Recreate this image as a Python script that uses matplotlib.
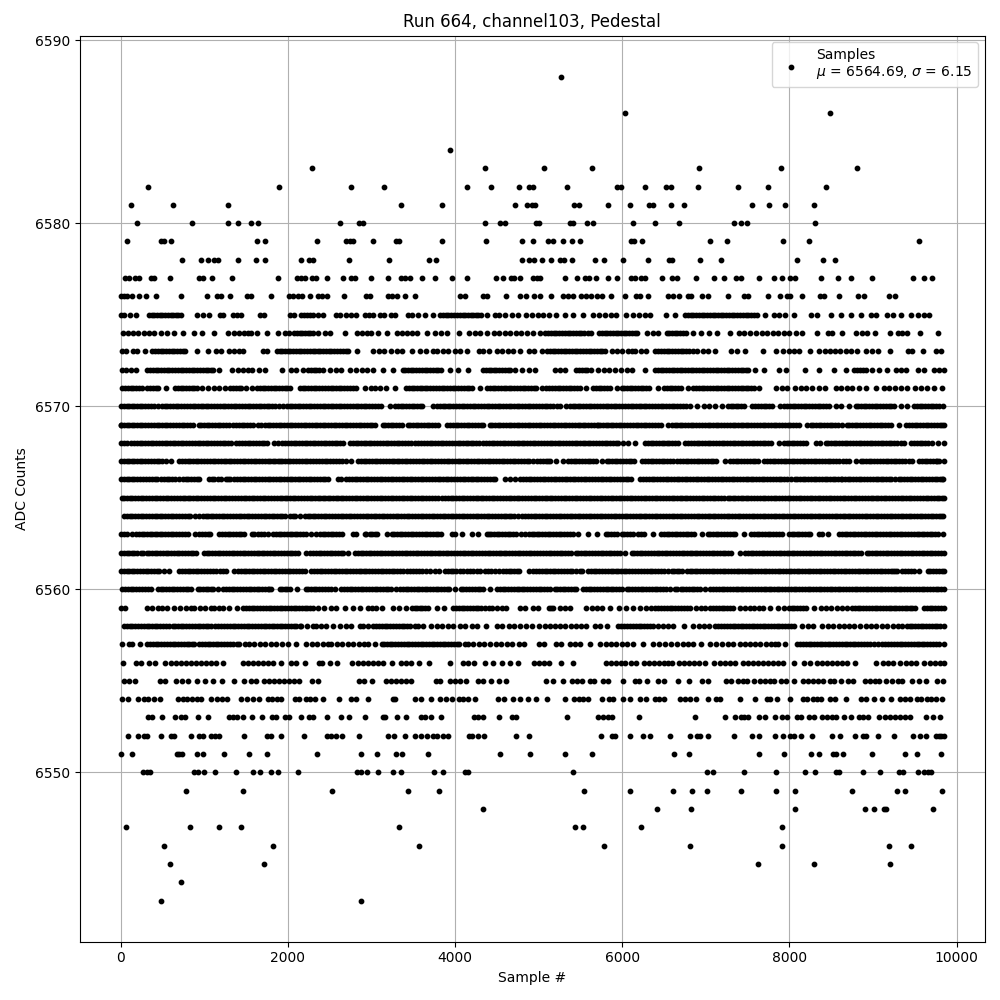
"""Pedestal scatter plot."""

import matplotlib
matplotlib.use("Agg")
import matplotlib.pyplot as plt

# sample numbers, one list per ADC level
S6543 = [488, 2876]
S6544 = [716]
S6545 = [584, 1712, 7620, 8292, 9204]
S6546 = [524, 1820, 3572, 5784, 6816, 7908, 9192, 9456]
S6547 = [68, 824, 1172, 1436, 3332, 5436, 5532, 6228, 7908]
S6548 = [4340, 6420, 6828, 8064, 8904, 9012, 9132, 9156, 9720]
S6549 = [776, 1460, 2528, 3440, 3812, 5544, 6096, 6612, 6840, 7008, 7416, 7836, 8064, 8748, 9288, 9384, 9828]
S6550 = [272, 320, 356, 872, 920, 1000, 1124, 1376, 1580, 1664, 1796, 1880, 2120, 2828, 2876, 2948, 3080, 3260, 3356,
         3752, 3860, 4120, 4150, 5412, 7008, 7080, 7452, 7836, 8184, 8304, 8556, 8592, 8880, 9084, 9312, 9360, 9540,
         9612, 9660, 9696]
S6551 = [0, 132, 668, 700, 728, 908, 980, 1232, 1532, 1748, 2348, 2876, 3068, 3296, 3368, 3680, 4532, 4892, 5316, 5640,
         6624, 6804, 7632, 7932, 8256, 8352, 8524, 8560, 8640, 8988, 9384, 9528, 9816]
S6552 = [92, 212, 284, 316, 488, 596, 636, 844, 932, 980, 1076, 1124, 1180, 1472, 1748, 1796, 1916, 2192, 2468, 2516,
         2576, 2648, 2852, 3200, 3272, 3404, 3524, 3596, 3668, 3740, 3788, 3860, 3920, 4172, 4208, 4280, 4352, 4724,
         4880, 5748, 5880, 5916, 6096, 6252, 6336, 6576, 6816, 6900, 6936, 7020, 7332, 7548, 7632, 7824, 7920, 8012,
         8052, 8136, 8268, 8508, 8604, 8784, 8880, 8916, 9060, 9252, 9480, 9564, 9636, 9748, 9790, 9812, 9847]
S6553 = [332, 372, 500, 644, 720, 768, 920, 1040, 1292, 1340, 1388, 1460, 1568, 1688, 1808, 1856, 1964, 2012, 2156,
         2252, 2300, 2468, 2636, 2732, 2928, 3132, 3164, 3308, 3416, 3596, 3644, 3716, 3836, 4232, 4280, 4340, 4520,
         4676, 4724, 5340, 5712, 5772, 5832, 5880, 6204, 6876, 7224, 7344, 7416, 7460, 7500, 7632, 7704, 7824, 7908,
         7968, 8088, 8136, 8232, 8292, 8392, 8452, 8512, 8556, 8652, 8736, 8832, 8880, 8940, 9072, 9144, 9204, 9264,
         9324, 9384, 9444, 9636, 9720, 9804]
S6554 = [20, 92, 212, 284, 332, 404, 476, 680, 740, 788, 848, 908, 956, 1076, 1148, 1208, 1268, 1436, 1508, 1580, 1652,
         1760, 1808, 1868, 1916, 2084, 2132, 2216, 2264, 2324, 2420, 2612, 2756, 2816, 2960, 3260, 3284, 3524, 3596,
         3716, 3824, 3896, 3968, 4052, 4100, 4160, 4240, 4508, 4580, 4688, 4772, 4868, 4964, 5096, 5316, 5424, 5484,
         5532, 5592, 5760, 5844, 5892, 6012, 6096, 6216, 6288, 6396, 6444, 6504, 6696, 6756, 6816, 6888, 7020, 7116,
         7164, 7404, 7584, 7728, 7764, 7848, 8004, 8160, 8208, 8280, 8328, 8376, 8484, 8544, 8676, 8856, 8916, 9012,
         9108, 9216, 9324, 9384, 9444, 9528, 9576, 9648, 9696, 9756, 9828]
S6555 = [44, 104, 176, 476, 536, 656, 728, 800, 908, 1004, 1100, 1208, 1352, 1472, 1556, 1616, 1712, 1772, 1832, 1892,
         1952, 2012, 2072, 2132, 2288, 2360, 2852, 2912, 3008, 3176, 3236, 3296, 3356, 3416, 3476, 3776, 3824, 3944,
         4004, 4064, 4136, 4280, 4340, 4424, 4520, 4604, 5088, 5172, 5292, 5400, 5460, 5520, 5616, 5664, 5772, 5832,
         6012, 6148, 6204, 6300, 6432, 6504, 6672, 6804, 6948, 7020, 7236, 7296, 7380, 7440, 7488, 7572, 7644, 7704,
         7764, 7812, 7896, 7956, 8052, 8160, 8220, 8280, 8340, 8400, 8484, 8532, 8616, 8700, 8760, 8904, 8964, 9024,
         9072, 9156, 9228, 9300, 9348, 9468, 9552, 9636, 9768, 9840]
S6556 = [32, 188, 248, 344, 416, 536, 596, 656, 716, 776, 836, 896, 956, 1016, 1076, 1136, 1220, 1460, 1520, 1580,
         1640, 1700, 1760, 1820, 1920, 2036, 2096, 2204, 2372, 2408, 2504, 2588, 2768, 2840, 2900, 2960, 3020, 3080,
         3140, 3248, 3356, 3416, 3476, 3572, 3692, 3944, 4100, 4160, 4232, 4364, 4448, 4556, 4652, 4748, 4940, 5000,
         5060, 5124, 5268, 5412, 5808, 5868, 5928, 5988, 6036, 6108, 6168, 6264, 6324, 6384, 6444, 6504, 6552, 6600,
         6684, 6744, 6804, 6864, 6924, 6984, 7092, 7164, 7224, 7284, 7344, 7440, 7500, 7560, 7620, 7680, 7740, 7800,
         7860, 7920, 8052, 8172, 8244, 8328, 8388, 8448, 8508, 8568, 8628, 8688, 8784, 9036, 9120, 9180, 9240, 9324,
         9396, 9456, 9516, 9612, 9684, 9744, 9804, 9847]
S6557 = [12, 100, 140, 236, 320, 390, 450, 520, 590, 650, 720, 790, 850, 880, 940, 1010, 1070, 1140, 1200, 1270, 1340,
         1390, 1420, 1490, 1540, 1600, 1670, 1730, 1800, 1860, 1930, 2000, 2092, 2220, 2290, 2350, 2420, 2480, 2520,
         2590, 2650, 2720, 2780, 2850, 2910, 2960, 3040, 3120, 3190, 3250, 3320, 3390, 3450, 3520, 3590, 3650, 3720,
         3780, 3850, 3920, 3990, 4050, 4120, 4160, 4220, 4290, 4350, 4420, 4490, 4550, 4620, 4680, 4760, 4820, 5000,
         5060, 5212, 5272, 5372, 5432, 5492, 5612, 5730, 5800, 5860, 5930, 6000, 6060, 6130, 6252, 6372, 6440, 6510,
         6580, 6652, 6724, 6792, 6844, 6940, 7052, 7120, 7190, 7260, 7330, 7412, 7464, 7532, 7592, 7652, 7720, 7780,
         7832, 7860, 7944, 8092, 8160, 8230, 8290, 8360, 8430, 8490, 8560, 8630, 8690, 8760, 8820, 8890, 8960, 9012,
         9060, 9112, 9180, 9250, 9320, 9380, 9450, 9520, 9580, 9650, 9720, 9790, 9847]
S6558 = [40, 110, 170, 240, 310, 370, 440, 510, 580, 620, 690, 750, 820, 890, 950, 1020, 1080, 1130, 1170, 1240, 1310,
         1370, 1440, 1510, 1570, 1640, 1710, 1770, 1840, 1900, 1970, 2040, 2100, 2140, 2160, 2230, 2300, 2340, 2400,
         2460, 2540, 2620, 2690, 2750, 2860, 2900, 2960, 3020, 3060, 3130, 3190, 3260, 3330, 3390, 3460, 3520, 3560,
         3620, 3710, 3780, 3840, 3910, 3980, 4060, 4120, 4200, 4268, 4372, 4500, 4560, 4640, 4710, 4780, 4850, 4920,
         5000, 5070, 5140, 5200, 5250, 5312, 5392, 5452, 5512, 5572, 5672, 5732, 5812, 5952, 6020, 6090, 6160, 6230,
         6300, 6370, 6432, 6492, 6552, 6612, 6744, 6852, 6920, 6980, 7032, 7112, 7180, 7250, 7320, 7380, 7450, 7520,
         7580, 7650, 7710, 7780, 7850, 7910, 7980, 8050, 8152, 8224, 8284, 8392, 8460, 8520, 8590, 8650, 8712, 8772,
         8840, 8910, 8970, 9040, 9110, 9170, 9240, 9300, 9352, 9404, 9470, 9540, 9600, 9670, 9740, 9800, 9844]
S6559 = [0, 52, 320, 380, 452, 500, 560, 640, 710, 780, 840, 880, 950, 1010, 1080, 1120, 1172, 1228, 1292, 1388, 1468,
         1540, 1600, 1670, 1740, 1800, 1870, 1930, 2000, 2070, 2130, 2200, 2260, 2300, 2360, 2428, 2520, 2580, 2680,
         2780, 2868, 2960, 3010, 3060, 3120, 3260, 3330, 3412, 3480, 3550, 3610, 3680, 3780, 3872, 3980, 4050, 4110,
         4180, 4250, 4310, 4400, 4440, 4500, 4560, 4612, 4772, 4840, 4932, 4988, 5120, 5144, 5172, 5252, 5312, 5380,
         5572, 5640, 5700, 5752, 5856, 5964, 6044, 6132, 6216, 6284, 6340, 6392, 6432, 6500, 6570, 6630, 6700, 6772,
         6812, 6880, 6940, 6992, 7052, 7120, 7190, 7250, 7320, 7412, 7472, 7530, 7580, 7632, 7684, 7772, 7860, 7930,
         8000, 8060, 8130, 8200, 8292, 8372, 8432, 8492, 8572, 8630, 8692, 8752, 8820, 8880, 8950, 9020, 9080, 9150,
         9220, 9280, 9350, 9410, 9472, 9504, 9612, 9680, 9740, 9810, 9847]
S6560 = [20, 90, 150, 220, 290, 360, 450, 510, 580, 640, 710, 780, 840, 920, 980, 1050, 1110, 1160, 1228, 1300, 1360,
         1430, 1500, 1560, 1630, 1690, 1760, 1800, 1900, 1960, 2020, 2112, 2212, 2280, 2340, 2410, 2480, 2560, 2640,
         2710, 2770, 2840, 2900, 2970, 3040, 3100, 3170, 3230, 3292, 3340, 3410, 3470, 3540, 3600, 3670, 3740, 3800,
         3870, 3930, 4000, 4068, 4130, 4200, 4270, 4330, 4420, 4500, 4570, 4630, 4700, 4770, 4830, 4900, 4970, 5030,
         5100, 5140, 5192, 5260, 5320, 5390, 5452, 5532, 5600, 5660, 5730, 5800, 5860, 5930, 5992, 6052, 6120, 6190,
         6250, 6320, 6390, 6450, 6520, 6572, 6632, 6700, 6760, 6830, 6892, 6932, 6992, 7052, 7120, 7190, 7250, 7320,
         7390, 7450, 7512, 7552, 7620, 7690, 7750, 7820, 7880, 7950, 8020, 8080, 8150, 8220, 8280, 8350, 8410, 8480,
         8550, 8610, 8680, 8750, 8810, 8880, 8940, 9010, 9080, 9140, 9210, 9280, 9340, 9372, 9412, 9480, 9550, 9610,
         9680, 9750, 9810, 9847]
S6561 = [0, 70, 130, 200, 270, 330, 400, 460, 520, 572, 700, 770, 830, 900, 960, 1030, 1100, 1140, 1188, 1260, 1360,
         1400, 1470, 1530, 1600, 1670, 1730, 1800, 1860, 1930, 2000, 2060, 2130, 2200, 2280, 2350, 2410, 2480, 2550,
         2610, 2680, 2740, 2810, 2880, 2940, 3010, 3080, 3140, 3210, 3270, 3340, 3420, 3460, 3530, 3600, 3700, 3760,
         3812, 3880, 3950, 4010, 4100, 4140, 4220, 4300, 4360, 4430, 4520, 4572, 4640, 4710, 4770, 4880, 4932, 5000,
         5070, 5140, 5200, 5270, 5340, 5400, 5492, 5520, 5592, 5660, 5720, 5790, 5860, 5920, 5990, 6050, 6120, 6152,
         6192, 6260, 6330, 6390, 6460, 6552, 6592, 6652, 6712, 6772, 6840, 6900, 6970, 7040, 7100, 7170, 7230, 7300,
         7370, 7430, 7500, 7552, 7592, 7660, 7720, 7790, 7860, 7920, 7990, 8050, 8120, 8190, 8250, 8320, 8380, 8450,
         8520, 8580, 8650, 8710, 8780, 8850, 8910, 8980, 9050, 9110, 9180, 9240, 9292, 9352, 9420, 9492, 9552, 9652,
         9720, 9790, 9847]
S6562 = [0, 70, 130, 200, 240, 310, 370, 440, 510, 570, 640, 700, 770, 840, 900, 1000, 1060, 1130, 1190, 1260, 1330,
         1390, 1460, 1520, 1590, 1660, 1720, 1790, 1850, 1920, 1990, 2050, 2120, 2220, 2268, 2340, 2400, 2470, 2530,
         2600, 2660, 2720, 2800, 2870, 2930, 3000, 3070, 3130, 3200, 3260, 3330, 3400, 3460, 3530, 3590, 3660, 3730,
         3790, 3860, 3920, 3990, 4060, 4120, 4190, 4250, 4320, 4390, 4450, 4520, 4580, 4650, 4720, 4780, 4850, 4910,
         4980, 5050, 5120, 5180, 5250, 5320, 5392, 5444, 5510, 5570, 5640, 5710, 5770, 5840, 5900, 5970, 6032, 6112,
         6180, 6240, 6310, 6380, 6440, 6510, 6570, 6640, 6710, 6770, 6840, 6900, 6970, 7040, 7100, 7170, 7230, 7300,
         7412, 7472, 7540, 7600, 7670, 7730, 7800, 7870, 7930, 8000, 8060, 8130, 8200, 8260, 8330, 8390, 8460, 8530,
         8590, 8660, 8720, 8790, 8852, 8924, 8990, 9050, 9120, 9180, 9250, 9320, 9380, 9450, 9510, 9580, 9650, 9710,
         9780, 9847]
S6563 = [0, 70, 140, 180, 250, 310, 380, 440, 500, 532, 600, 660, 730, 800, 892, 940, 1010, 1070, 1172, 1212, 1280,
         1340, 1410, 1470, 1572, 1600, 1680, 1760, 1820, 1890, 1950, 2020, 2080, 2150, 2220, 2340, 2380, 2450, 2510,
         2580, 2650, 2780, 2820, 2920, 2940, 3010, 3070, 3188, 3240, 3310, 3370, 3440, 3500, 3570, 3640, 3700, 3770,
         3830, 3960, 4000, 4080, 4200, 4270, 4380, 4400, 4470, 4530, 4600, 4660, 4730, 4840, 4880, 4950, 5010, 5080,
         5140, 5210, 5270, 5340, 5412, 5472, 5592, 5692, 5800, 5870, 5932, 5992, 6060, 6132, 6192, 6260, 6372, 6460,
         6530, 6590, 6660, 6730, 6790, 6860, 6952, 7024, 7090, 7150, 7220, 7290, 7350, 7452, 7540, 7610, 7670, 7740,
         7800, 7870, 7912, 7992, 8060, 8120, 8190, 8250, 8352, 8392, 8460, 8592, 8660, 8720, 8790, 8860, 8920, 8990,
         9050, 9120, 9190, 9250, 9320, 9380, 9450, 9520, 9580, 9650, 9710, 9772, 9840]
S6564 = [40, 110, 170, 240, 300, 370, 440, 500, 570, 630, 700, 770, 830, 940, 980, 1050, 1110, 1180, 1240, 1310, 1380,
         1440, 1510, 1570, 1640, 1710, 1770, 1840, 1900, 1960, 2028, 2090, 2140, 2200, 2270, 2330, 2400, 2460, 2530,
         2600, 2660, 2730, 2790, 2860, 2930, 2990, 3060, 3120, 3190, 3260, 3320, 3390, 3450, 3520, 3590, 3650, 3720,
         3780, 3850, 3920, 3980, 4050, 4110, 4180, 4250, 4310, 4380, 4440, 4510, 4580, 4640, 4710, 4800, 4840, 4910,
         4970, 5040, 5100, 5170, 5240, 5300, 5370, 5430, 5500, 5570, 5630, 5700, 5760, 5830, 5900, 5960, 6030, 6090,
         6160, 6230, 6290, 6360, 6420, 6490, 6560, 6620, 6690, 6750, 6820, 6890, 6950, 7020, 7080, 7150, 7220, 7280,
         7350, 7410, 7480, 7550, 7610, 7680, 7740, 7810, 7880, 7940, 8010, 8070, 8140, 8210, 8270, 8340, 8400, 8470,
         8540, 8600, 8670, 8730, 8800, 8870, 8930, 9000, 9060, 9130, 9200, 9260, 9330, 9390, 9460, 9530, 9590, 9660,
         9720, 9790, 9840]
S6565 = [12, 80, 140, 210, 270, 340, 410, 470, 540, 600, 670, 740, 800, 870, 930, 1000, 1070, 1130, 1200, 1260, 1330,
         1400, 1480, 1500, 1570, 1630, 1700, 1760, 1830, 1900, 1960, 2030, 2090, 2160, 2230, 2290, 2360, 2420, 2480,
         2500, 2570, 2630, 2700, 2770, 2830, 2900, 2960, 3030, 3100, 3160, 3230, 3290, 3360, 3430, 3490, 3560, 3620,
         3690, 3760, 3840, 3880, 3950, 4010, 4080, 4140, 4210, 4280, 4340, 4410, 4470, 4540, 4610, 4670, 4740, 4800,
         4870, 4940, 5000, 5070, 5130, 5200, 5270, 5330, 5400, 5460, 5530, 5600, 5660, 5730, 5790, 5860, 5930, 5990,
         6060, 6120, 6190, 6260, 6320, 6390, 6450, 6520, 6590, 6650, 6720, 6780, 6850, 6920, 6980, 7050, 7110, 7180,
         7260, 7320, 7380, 7450, 7510, 7580, 7650, 7710, 7780, 7840, 7910, 7980, 8040, 8110, 8170, 8240, 8310, 8370,
         8440, 8500, 8570, 8640, 8700, 8770, 8830, 8900, 8970, 9030, 9100, 9160, 9230, 9300, 9360, 9430, 9490, 9560,
         9630, 9690, 9760, 9820, 9847]
S6566 = [0, 70, 130, 200, 270, 340, 372, 440, 480, 550, 610, 700, 748, 810, 880, 940, 1060, 1120, 1200, 1260, 1310,
         1360, 1430, 1490, 1560, 1620, 1690, 1760, 1820, 1890, 1950, 2020, 2090, 2150, 2220, 2280, 2350, 2420, 2480,
         2600, 2640, 2700, 2770, 2830, 2900, 2960, 3030, 3100, 3160, 3230, 3290, 3360, 3430, 3490, 3560, 3620, 3690,
         3760, 3820, 3890, 3950, 4020, 4090, 4150, 4220, 4280, 4350, 4420, 4480, 4600, 4660, 4720, 4780, 4850, 4910,
         4980, 5050, 5110, 5180, 5240, 5310, 5380, 5440, 5510, 5570, 5640, 5710, 5770, 5840, 5900, 5970, 6040, 6100,
         6212, 6252, 6320, 6380, 6450, 6520, 6580, 6650, 6710, 6780, 6850, 6910, 6980, 7040, 7110, 7180, 7240, 7310,
         7370, 7440, 7510, 7570, 7640, 7700, 7770, 7840, 7900, 7970, 8072, 8092, 8160, 8220, 8290, 8350, 8420, 8490,
         8550, 8612, 8632, 8700, 8760, 8830, 8890, 8960, 9030, 9090, 9160, 9220, 9312, 9340, 9410, 9470, 9540, 9600,
         9670, 9740, 9800, 9840]
S6567 = [0, 70, 130, 200, 260, 330, 400, 460, 540, 600, 700, 770, 830, 900, 960, 1030, 1100, 1160, 1230, 1290, 1360,
         1430, 1490, 1560, 1620, 1690, 1760, 1820, 1880, 1900, 1970, 2030, 2100, 2170, 2230, 2300, 2340, 2410, 2470,
         2540, 2610, 2700, 2760, 2840, 2910, 2970, 3040, 3100, 3170, 3240, 3300, 3370, 3430, 3500, 3570, 3630, 3700,
         3760, 3830, 3900, 3960, 4030, 4090, 4160, 4230, 4290, 4360, 4420, 4490, 4560, 4620, 4690, 4750, 4820, 4890,
         4980, 5020, 5090, 5140, 5210, 5292, 5352, 5420, 5480, 5550, 5620, 5680, 5752, 5812, 5880, 5940, 6010, 6080,
         6140, 6232, 6272, 6340, 6400, 6470, 6540, 6612, 6660, 6730, 6790, 6860, 6920, 6990, 7060, 7120, 7232, 7292,
         7360, 7420, 7490, 7560, 7620, 7692, 7732, 7800, 7860, 7930, 7990, 8060, 8130, 8190, 8260, 8320, 8390, 8460,
         8520, 8592, 8644, 8710, 8792, 8852, 8920, 8980, 9050, 9120, 9180, 9250, 9310, 9380, 9472, 9552, 9620, 9680,
         9750, 9792, 9847]
S6568 = [0, 70, 120, 160, 230, 290, 360, 420, 490, 560, 620, 690, 750, 820, 890, 950, 1020, 1080, 1150, 1220, 1280,
         1320, 1380, 1420, 1490, 1550, 1620, 1690, 1750, 1840, 1880, 1932, 2000, 2070, 2130, 2200, 2260, 2330, 2400,
         2460, 2530, 2590, 2660, 2740, 2810, 2870, 2940, 3000, 3070, 3140, 3200, 3270, 3330, 3400, 3470, 3520, 3560,
         3630, 3700, 3760, 3830, 3890, 3960, 4030, 4090, 4160, 4220, 4290, 4340, 4372, 4440, 4500, 4570, 4630, 4700,
         4770, 4830, 4900, 4960, 5030, 5100, 5160, 5230, 5290, 5360, 5430, 5490, 5560, 5620, 5690, 5760, 5820, 5890,
         5950, 6012, 6072, 6152, 6272, 6340, 6400, 6470, 6530, 6600, 6670, 6752, 6792, 6860, 6920, 6990, 7050, 7120,
         7190, 7250, 7320, 7380, 7450, 7520, 7580, 7650, 7710, 7780, 7872, 7932, 8000, 8060, 8130, 8200, 8312, 8364,
         8432, 8500, 8560, 8630, 8690, 8760, 8830, 8890, 8960, 9020, 9090, 9160, 9220, 9290, 9372, 9460, 9530, 9590,
         9660, 9772, 9844]
S6569 = [0, 70, 130, 200, 260, 330, 400, 460, 530, 590, 660, 730, 790, 860, 940, 960, 1030, 1090, 1160, 1220, 1290,
         1340, 1380, 1450, 1510, 1580, 1680, 1728, 1790, 1860, 1920, 1990, 2050, 2120, 2190, 2250, 2320, 2380, 2450,
         2520, 2580, 2650, 2710, 2780, 2850, 2910, 2980, 3040, 3140, 3160, 3230, 3290, 3360, 3440, 3460, 3530, 3590,
         3660, 3720, 3790, 3900, 3940, 4010, 4070, 4140, 4200, 4270, 4340, 4420, 4440, 4510, 4570, 4640, 4700, 4770,
         4840, 4900, 4970, 5030, 5100, 5170, 5230, 5300, 5360, 5430, 5500, 5560, 5630, 5692, 5732, 5800, 5860, 5930,
         5990, 6060, 6130, 6190, 6260, 6320, 6390, 6460, 6552, 6592, 6660, 6720, 6790, 6850, 6920, 6990, 7050, 7120,
         7180, 7250, 7320, 7380, 7450, 7510, 7580, 7650, 7710, 7780, 7840, 7910, 7980, 8040, 8110, 8212, 8252, 8320,
         8380, 8450, 8510, 8580, 8632, 8684, 8750, 8810, 8880, 8950, 9010, 9080, 9140, 9210, 9312, 9400, 9470, 9530,
         9600, 9660, 9730, 9800, 9847]
S6570 = [0, 70, 130, 200, 260, 330, 400, 500, 528, 590, 660, 720, 790, 860, 920, 990, 1050, 1120, 1190, 1250, 1320,
         1380, 1450, 1520, 1580, 1650, 1710, 1780, 1850, 1940, 1988, 2050, 2120, 2180, 2250, 2310, 2380, 2450, 2510,
         2580, 2640, 2710, 2780, 2840, 2910, 2970, 3040, 3110, 3220, 3280, 3350, 3410, 3480, 3540, 3610, 3740, 3780,
         3850, 3910, 3980, 4050, 4110, 4180, 4240, 4310, 4380, 4440, 4510, 4570, 4640, 4710, 4770, 4840, 4900, 4970,
         5040, 5100, 5170, 5260, 5332, 5372, 5440, 5500, 5570, 5630, 5700, 5770, 5830, 5900, 5960, 6030, 6100, 6160,
         6230, 6290, 6360, 6430, 6490, 6560, 6620, 6690, 6760, 6812, 6892, 6972, 7032, 7112, 7192, 7260, 7330, 7390,
         7460, 7552, 7592, 7660, 7720, 7790, 7892, 7940, 8010, 8070, 8140, 8200, 8270, 8340, 8400, 8470, 8552, 8612,
         8712, 8792, 8860, 8920, 8990, 9050, 9120, 9190, 9252, 9332, 9412, 9492, 9560, 9620, 9690, 9750, 9832]
S6571 = [20, 90, 150, 220, 260, 320, 390, 450, 540, 652, 720, 780, 850, 910, 972, 1040, 1120, 1180, 1250, 1310, 1380,
         1440, 1500, 1572, 1628, 1700, 1760, 1830, 1890, 1960, 2028, 2148, 2210, 2280, 2340, 2410, 2480, 2540, 2610,
         2670, 2740, 2812, 2920, 2990, 3040, 3100, 3172, 3276, 3412, 3480, 3540, 3610, 3670, 3740, 3810, 3870, 3940,
         4000, 4070, 4140, 4200, 4300, 4380, 4450, 4510, 4580, 4640, 4710, 4780, 4840, 4910, 4970, 5040, 5092, 5160,
         5230, 5290, 5360, 5420, 5490, 5572, 5652, 5720, 5780, 5850, 5932, 5992, 6060, 6120, 6190, 6250, 6320, 6432,
         6500, 6570, 6630, 6700, 6792, 6852, 6920, 6980, 7050, 7120, 7180, 7250, 7310, 7380, 7450, 7510, 7580, 7632,
         7844, 7912, 7972, 8072, 8140, 8200, 8270, 8352, 8424, 8552, 8620, 8692, 8752, 8830, 8912, 9032, 9132, 9192,
         9260, 9330, 9412, 9500, 9570, 9640, 9732, 9824]
S6572 = [12, 60, 120, 180, 320, 390, 450, 520, 580, 650, 720, 780, 850, 910, 980, 1050, 1110, 1180, 1332, 1400, 1460,
         1520, 1572, 1660, 1732, 1932, 2040, 2100, 2180, 2240, 2310, 2370, 2420, 2500, 2570, 2630, 2740, 2820, 2890,
         2950, 3020, 3132, 3252, 3372, 3440, 3500, 3570, 3640, 3700, 3770, 3830, 3940, 4040, 4160, 4332, 4400, 4460,
         4530, 4600, 4660, 4720, 4800, 4880, 4960, 5192, 5252, 5312, 5452, 5520, 5580, 5632, 5712, 5780, 5840, 5910,
         5980, 6052, 6112, 6272, 6392, 6460, 6520, 6590, 6650, 6720, 6790, 6850, 6920, 6980, 7050, 7120, 7180, 7250,
         7310, 7380, 7450, 7510, 7592, 7700, 7872, 7964, 8192, 8352, 8532, 8676, 8772, 8840, 8910, 8992, 9072, 9172,
         9272, 9330, 9392, 9532, 9612, 9732, 9790, 9847]
S6573 = [20, 60, 148, 196, 288, 380, 450, 510, 580, 640, 710, 772, 908, 1040, 1140, 1200, 1292, 1360, 1420, 1460, 1700,
         1752, 1868, 1930, 2000, 2060, 2130, 2190, 2260, 2330, 2390, 2460, 2520, 2590, 2660, 2720, 2828, 3020, 3090,
         3150, 3228, 3308, 3360, 3488, 3580, 3650, 3740, 3788, 3850, 3920, 4000, 4060, 4148, 4292, 4340, 4400, 4500,
         4560, 4630, 4690, 4780, 4880, 4940, 5040, 5140, 5200, 5270, 5330, 5400, 5460, 5530, 5600, 5660,
         5730, 5792, 5872, 5940, 6000, 6070, 6112, 6152, 6220, 6290, 6392, 6432, 6500, 6560, 6630, 6700, 6760, 6852,
         6892, 6960, 7020, 7112, 7300, 7370, 7472, 7680, 7836, 7924, 7990, 8050, 8120, 8244, 8352, 8420, 8480, 8550,
         8610, 8680, 8732, 8808, 8912, 8992, 9060, 9204, 9424, 9472, 9600, 9756, 9812]
S6574 = [28, 90, 148, 212, 280, 340, 400, 480, 560, 640, 740, 880, 968, 1112, 1280, 1360, 1420, 1480, 1520, 1560, 1628,
         1748, 1880, 1960, 2012, 2072, 2140, 2200, 2270, 2360, 2440, 2500, 2680, 2828, 2890, 2950, 3000, 3080, 3180,
         3300, 3360, 3420, 3490, 3550, 3660, 3760, 3830, 3900, 4052, 4168, 4240, 4300, 4380, 4468, 4530, 4600, 4660,
         4730, 4790, 4860, 4932, 5020, 5080, 5150, 5210, 5280, 5350, 5410, 5480, 5540, 5632, 5724, 5790,
         5850, 5920, 5980, 6050, 6120, 6180, 6292, 6364, 6432, 6532, 6600, 6660, 6730, 6844, 6940, 7032, 7132, 7292,
         7400, 7452, 7524, 7600, 7672, 7732, 7800, 7860, 7930, 8000, 8084, 8148, 8328, 8460, 8512, 8632, 8796, 8872,
         8924, 9020, 9204, 9300, 9350, 9404, 9564, 9780]
S6575 = [0, 40, 108, 188, 340, 400, 470, 530, 600, 660, 720, 908, 980, 1060, 1188, 1228, 1340, 1390, 1440, 1668, 1720,
         2028, 2068, 2160, 2230, 2300, 2360, 2420, 2572, 2620, 2700, 2760, 2820, 2920, 2970, 3020, 3100, 3148, 3228,
         3280, 3440, 3480, 3560, 3640, 3740, 3820, 3890, 3950, 4020, 4090, 4150, 4220, 4280, 4380, 4480, 4528, 4592,
         4680, 4748, 4852, 4920, 4990, 5050, 5120, 5210, 5312, 5412, 5532, 5652, 5720, 5790, 5860,
         5924, 6044, 6132, 6200, 6270, 6332, 6524, 6632, 6752, 6820, 6880, 6950, 7010, 7080, 7150, 7210, 7280, 7340,
         7410, 7480, 7540, 7610, 7712, 7812, 7880, 7950, 8052, 8252, 8332, 8496, 8616, 8732, 8856, 8972, 9032, 9172,
         9240, 9332, 9460, 9532, 9612, 9672]
S6576 = [0, 40, 80, 140, 224, 308, 428, 716, 1028, 1148, 1196, 1304, 1508, 1556, 1796, 2012, 2060, 2120, 2172, 2264,
         2360, 2412, 2468, 2672, 2936, 2984, 3200, 3248, 3308, 3404, 3524, 4064, 4124, 4340, 4388, 4604, 4772, 4844,
         4940, 5012, 5148, 5292, 5352, 5412, 5512, 5572, 5632, 5700, 5752, 5868, 6036, 6168, 6216, 6312, 6552, 6612,
         6680, 6788, 6828, 6948, 7020, 7260, 7452, 7500, 7748, 7884, 7968, 8004, 8148, 8364, 8412, 8592, 8820, 8892,
         9192, 9260]
S6577 = [52, 100, 172, 220, 368, 400, 584, 940, 988, 1088, 1328, 1876, 2108, 2156, 2204, 2288, 2340, 2468, 2660, 2760,
         2804, 2996, 3200, 3356, 3404, 3460, 3600, 3764, 3968, 4148, 4484, 4568, 4664, 4700, 4772, 4928, 4980, 5020,
         5316, 5460, 5556, 5604, 5688, 5832, 5936, 6108, 6156, 6228, 6276, 6480, 6600, 6660, 6888, 7092, 7212, 7356,
         7416, 7632, 7812, 7908, 8004, 8064, 8376, 8580, 8732, 8988, 9480, 9612, 9708]
S6578 = [728, 956, 1040, 1112, 1160, 1400, 1616, 1724, 2156, 2252, 2300, 2732, 3212, 3692, 3776, 4796, 4880, 4940,
         5036, 5148, 5252, 5300, 5400, 5676, 5784, 6012, 6312, 6564, 6600, 6936, 7176, 8088, 8400, 8544]
S6579 = [80, 488, 524, 596, 1628, 1724, 2348, 2700, 2740, 2780, 3020, 3296, 3332, 3848, 4376, 4796, 4928, 5112, 5172,
         5292, 5400, 5496, 6108, 6144, 6240, 7044, 7248, 7920, 8232, 9552]
S6580 = [200, 848, 1280, 1400, 1556, 1640, 2624, 2852, 2900, 4364, 4536, 4596, 4968, 5004, 5380, 5412, 5580, 5652,
         6132, 6396, 6684, 7332, 7416, 7488, 8304]
S6581 = [128, 620, 1280, 3356, 3848, 4712, 4856, 4920, 4956, 5420, 5484, 5832, 6096, 6324, 6372, 6588, 6744, 7548,
         7752, 7944, 8292]
S6582 = [332, 1892, 2756, 3152, 4148, 4424, 4760, 4880, 4932, 5340, 5940, 5980, 6276, 6524, 6588, 6912, 7380, 7740,
         8436]
S6583 = [2288, 4364, 5060, 5640, 6924, 7896, 8808]
S6584 = [3944]
S6586 = [6036, 8484]
S6588 = [5268]

# the other half of the samples on the thick central rows
E6560 = [55, 120, 185, 255, 325, 480, 545, 610, 675, 745, 810, 950, 1015, 1080, 1265, 1330, 1395, 1465, 1530, 1595,
         1660, 1725, 1780, 1930, 1990, 2245, 2310, 2375, 2445, 2520, 2675, 2740, 2805, 2870, 2935, 3005, 3070, 3135,
         3200, 3375, 3440, 3505, 3570, 3635, 3705, 3770, 3835, 3900, 4100, 4165, 4235, 4300, 4535, 4600, 4665, 4735,
         4800, 4865, 4935, 5000, 5065, 5225, 5290, 5355, 5420, 5565, 5630, 5695, 5765, 5830, 5895, 5960, 6085, 6155,
         6220, 6285, 6355, 6420, 6485, 6660, 6730, 6795, 6860, 7085, 7155, 7220, 7285, 7355, 7420, 7480, 7585, 7655,
         7720, 7785, 7850, 7915, 7985, 8050, 8115, 8185, 8250, 8315, 8380, 8445, 8515, 8580, 8645, 8715, 8780, 8845,
         8910, 8975, 9045, 9110, 9175, 9245, 9310, 9445, 9515, 9580, 9645, 9715, 9780]
E6561 = [35, 100, 165, 235, 300, 365, 430, 735, 800, 865, 930, 995, 1065, 1225, 1435, 1500, 1565, 1635, 1700, 1765,
         1830, 1895, 1965, 2030, 2095, 2165, 2315, 2380, 2445, 2515, 2580, 2645, 2710, 2775, 2845, 2910, 2975, 3045,
         3110, 3175, 3240, 3305, 3380, 3495, 3565, 3650, 3915, 3980, 4060, 4180, 4260, 4395, 4475, 4605, 4675, 4740,
         4965, 5035, 5105, 5170, 5235, 5305, 5370, 5445, 5625, 5690, 5755, 5825, 5890, 5955, 6020, 6085, 6225, 6295,
         6360, 6425, 6505, 6620, 6680, 6805, 6870, 6935, 7005, 7070, 7135, 7200, 7265, 7335, 7400, 7465, 7525, 7625,
         7690, 7755, 7825, 7890, 7955, 8020, 8085, 8155, 8220, 8285, 8350, 8415, 8485, 8550, 8615, 8680, 8745, 8815,
         8880, 8945, 9015, 9080, 9145, 9210, 9265, 9385, 9455, 9685, 9755, 9820]
E6562 = [35, 100, 165, 270, 340, 405, 475, 540, 605, 670, 735, 805, 870, 1030, 1095, 1160, 1225, 1295, 1360, 1425,
         1490, 1555, 1625, 1690, 1755, 1820, 1885, 1955, 2020, 2085, 2305, 2370, 2435, 2500, 2565, 2630, 2835, 2900,
         2965, 3035, 3100, 3165, 3230, 3295, 3365, 3430, 3495, 3560, 3625, 3695, 3760, 3825, 3890, 3955, 4025, 4090,
         4155, 4220, 4285, 4355, 4420, 4485, 4550, 4615, 4685, 4750, 4815, 4880, 4945, 5015, 5085, 5150, 5215, 5285,
         5355, 5475, 5540, 5605, 5675, 5740, 5805, 5870, 5935, 6145, 6210, 6275, 6345, 6410, 6475, 6540, 6605, 6675,
         6740, 6805, 6870, 6935, 7005, 7070, 7135, 7200, 7265, 7505, 7570, 7635, 7700, 7765, 7835, 7900, 7965, 8030,
         8095, 8165, 8230, 8295, 8360, 8425, 8495, 8560, 8625, 8690, 8755, 8820, 8955, 9020, 9085, 9150, 9215, 9285,
         9350, 9415, 9480, 9545, 9615, 9680, 9745, 9815]
E6563 = [35, 215, 280, 345, 410, 470, 565, 630, 695, 765, 975, 1040, 1245, 1310, 1375, 1440, 1640, 1720, 1855, 1920,
         1985, 2050, 2115, 2185, 2280, 2415, 2480, 2545, 2615, 2980, 3040, 3275, 3340, 3405, 3470, 3535, 3605, 3670,
         3735, 3800, 4435, 4500, 4565, 4630, 4695, 4785, 4915, 4980, 5045, 5110, 5175, 5240, 5305, 5375, 5835, 5900,
         6025, 6095, 6225, 6495, 6560, 6625, 6695, 6760, 6825, 7055, 7120, 7185, 7255, 7320, 7575, 7640, 7705, 7770,
         7835, 8025, 8090, 8155, 8220, 8625, 8690, 8755, 8825, 8890, 8955, 9020, 9085, 9155, 9220, 9285, 9350, 9415,
         9485, 9550, 9615, 9680, 9740]
E6564 = [75, 140, 205, 270, 335, 405, 470, 535, 600, 665, 735, 800, 885, 1015, 1080, 1145, 1210, 1275, 1345, 1410,
         1475, 1540, 1605, 1675, 1740, 1805, 1870, 1930, 2060, 2235, 2300, 2365, 2430, 2495, 2565, 2630, 2695, 2760,
         2825, 2895, 2960, 3025, 3090, 3155, 3225, 3290, 3355, 3420, 3485, 3555, 3620, 3685, 3750, 3815, 3885, 3950,
         4015, 4080, 4145, 4215, 4280, 4345, 4410, 4475, 4545, 4610, 4675, 4755, 4875, 4940, 5005, 5070, 5135, 5205,
         5270, 5335, 5400, 5465, 5535, 5600, 5665, 5730, 5795, 5865, 5930, 5995, 6060, 6125, 6195, 6260, 6325, 6390,
         6455, 6525, 6590, 6655, 6720, 6785, 6855, 6920, 6985, 7050, 7115, 7185, 7250, 7315, 7380, 7445, 7515, 7580,
         7645, 7710, 7775, 7845, 7910, 7975, 8040, 8105, 8175, 8240, 8305, 8370, 8435, 8505, 8570, 8635, 8700, 8765,
         8835, 8900, 8965, 9030, 9095, 9165, 9230, 9295, 9360, 9425, 9495, 9560, 9625, 9690, 9755, 9815]
E6565 = [45, 110, 175, 240, 305, 375, 440, 505, 570, 635, 705, 770, 835, 900, 965, 1035, 1100, 1165, 1230, 1295, 1365,
         1440, 1535, 1600, 1665, 1730, 1795, 1865, 1930, 1995, 2060, 2125, 2195, 2260, 2325, 2390, 2450, 2535, 2600,
         2665, 2735, 2800, 2865, 2930, 2995, 3065, 3130, 3195, 3260, 3325, 3395, 3460, 3525, 3590, 3655, 3725, 3800,
         3915, 3980, 4045, 4110, 4175, 4245, 4310, 4375, 4440, 4505, 4575, 4640, 4705, 4770, 4835, 4905, 4970, 5035,
         5100, 5165, 5235, 5300, 5365, 5430, 5495, 5565, 5630, 5695, 5760, 5825, 5895, 5960, 6025, 6090, 6155, 6225,
         6290, 6355, 6420, 6485, 6555, 6620, 6685, 6750, 6815, 6885, 6950, 7015, 7080, 7145, 7220, 7290, 7350, 7415,
         7480, 7545, 7615, 7680, 7745, 7810, 7875, 7945, 8010, 8075, 8140, 8205, 8275, 8340, 8405, 8470, 8535, 8605,
         8670, 8735, 8800, 8865, 8935, 9000, 9065, 9130, 9195, 9265, 9330, 9395, 9460, 9525, 9595, 9660, 9725, 9790]
E6566 = [35, 100, 165, 235, 305, 410, 515, 580, 645, 780, 845, 910, 1090, 1160, 1285, 1395, 1460, 1525, 1590, 1655,
         1725, 1790, 1855, 1920, 1985, 2055, 2120, 2185, 2250, 2315, 2385, 2450, 2735, 2800, 2865, 2930, 2995, 3065,
         3130, 3195, 3260, 3325, 3395, 3460, 3525, 3590, 3655, 3725, 3790, 3855, 3920, 3985, 4055, 4120, 4185, 4250,
         4315, 4385, 4450, 4815, 4880, 4945, 5015, 5080, 5145, 5210, 5275, 5345, 5410, 5475, 5540, 5605, 5675, 5740,
         5805, 5870, 5935, 6005, 6070, 6285, 6350, 6415, 6485, 6550, 6615, 6680, 6745, 6815, 6880, 6945, 7010, 7075,
         7145, 7210, 7275, 7340, 7405, 7475, 7540, 7605, 7670, 7735, 7805, 7870, 7935, 8020, 8125, 8190, 8255, 8320,
         8385, 8455, 8520, 8580, 8665, 8730, 8795, 8860, 8925, 8995, 9060, 9125, 9190, 9265, 9375, 9440, 9505, 9570,
         9635, 9705, 9770, 9820]
E6567 = [35, 100, 165, 230, 295, 365, 430, 500, 735, 800, 865, 930, 995, 1065, 1130, 1195, 1260, 1325, 1395, 1460,
         1525, 1590, 1655, 1725, 1790, 1850, 1935, 2000, 2065, 2135, 2200, 2265, 2375, 2440, 2505, 2575, 2650, 2875,
         2940, 3005, 3070, 3135, 3205, 3270, 3335, 3400, 3465, 3535, 3600, 3665, 3730, 3795, 3865, 3930, 3995, 4060,
         4125, 4195, 4260, 4325, 4390, 4455, 4525, 4590, 4655, 4720, 4785, 4855, 4930, 5055, 5115, 5385, 5450, 5515,
         5585, 5650, 5845, 5910, 5975, 6045, 6110, 6305, 6370, 6435, 6505, 6570, 6695, 6760, 6825, 6890, 6955, 7025,
         7090, 7325, 7390, 7455, 7525, 7590, 7765, 7830, 7895, 7960, 8025, 8095, 8160, 8225, 8290, 8355, 8425, 8490,
         8555, 8680, 8885, 8950, 9015, 9085, 9150, 9215, 9280, 9345, 9425, 9585, 9650, 9715, 9770]
E6568 = [35, 195, 260, 325, 390, 455, 525, 590, 655, 720, 785, 855, 920, 985, 1050, 1115, 1185, 1250, 1455, 1520, 1585,
         1655, 1720, 1965, 2035, 2100, 2165, 2230, 2295, 2365, 2430, 2495, 2560, 2625, 2775, 2840, 2905, 2970, 3035,
         3105, 3170, 3235, 3300, 3365, 3435, 3595, 3665, 3730, 3795, 3860, 3925, 3995, 4060, 4125, 4190, 4255, 4405,
         4470, 4535, 4600, 4665, 4735, 4800, 4865, 4930, 4995, 5065, 5130, 5195, 5260, 5325, 5395, 5460, 5525, 5590,
         5655, 5725, 5790, 5855, 5920, 6305, 6370, 6435, 6500, 6565, 6635, 6825, 6890, 6955, 7020, 7085, 7155, 7220,
         7285, 7350, 7415, 7485, 7550, 7615, 7680, 7745, 7965, 8030, 8095, 8165, 8465, 8530, 8595, 8660, 8725, 8795,
         8860, 8925, 8990, 9055, 9125, 9190, 9255, 9330, 9495, 9560, 9625, 9700]
E6569 = [35, 100, 165, 230, 295, 365, 430, 495, 560, 625, 695, 760, 825, 995, 1060, 1125, 1190, 1255, 1415, 1480, 1545,
         1760, 1825, 1890, 1955, 2020, 2085, 2155, 2220, 2285, 2350, 2415, 2485, 2550, 2615, 2680, 2745, 2815, 2880,
         2945, 3010, 3195, 3260, 3325, 3495, 3560, 3625, 3690, 3755, 3975, 4040, 4105, 4170, 4235, 4305, 4475, 4540,
         4605, 4670, 4735, 4805, 4870, 4935, 5000, 5065, 5135, 5200, 5265, 5330, 5395, 5465, 5530, 5595, 5660, 5765,
         5830, 5895, 5960, 6025, 6095, 6160, 6225, 6290, 6355, 6425, 6625, 6690, 6755, 6820, 6885, 6955, 7020, 7085,
         7150, 7215, 7285, 7350, 7415, 7480, 7545, 7615, 7680, 7745, 7810, 7875, 7945, 8010, 8075, 8285, 8350, 8415,
         8480, 8545, 8715, 8780, 8845, 8915, 8980, 9045, 9110, 9175, 9435, 9500, 9565, 9630, 9695, 9765, 9825]
E6570 = [35, 100, 165, 230, 295, 365, 450, 560, 625, 690, 755, 825, 890, 955, 1020, 1085, 1155, 1220, 1285, 1350, 1415,
         1485, 1550, 1615, 1680, 1745, 1815, 1895, 2020, 2085, 2150, 2215, 2280, 2345, 2415, 2480, 2545, 2610, 2675,
         2745, 2810, 2875, 2940, 3005, 3075, 3315, 3380, 3445, 3510, 3575, 3815, 3880, 3945, 4015, 4080, 4145, 4210,
         4275, 4345, 4410, 4475, 4540, 4605, 4675, 4740, 4805, 4870, 4935, 5005, 5070, 5135, 5215, 5405, 5470, 5535,
         5600, 5665, 5735, 5800, 5865, 5930, 5995, 6065, 6130, 6195, 6260, 6325, 6395, 6460, 6525, 6590, 6655, 6725,
         7295, 7360, 7425, 7625, 7690, 7755, 7975, 8040, 8105, 8170, 8235, 8305, 8370, 8435, 8825, 8890, 8955, 9020,
         9085, 9155, 9220, 9525, 9590, 9655, 9720, 9790]
E6569 += [1640, 7, 5715]
E6571 = [55, 120, 185, 355, 420, 685, 750, 815, 880, 1345, 1410, 1665, 1730, 1795, 1860, 1925, 1995, 2180, 2245, 2310,
         2375, 2445, 2510, 2575, 2640, 2705, 2775, 3445, 3510, 3575, 3640, 3705, 3775, 3840, 3905, 3970, 4035, 4105,
         4170, 4415, 4480, 4545, 4610, 4675, 4745, 4810, 4875, 4940, 5125, 5195, 5260, 5325, 5390, 5455, 5685, 5750,
         5815, 6025, 6090, 6155, 6220, 6285, 6535, 6600, 6665, 6885, 6950, 7015, 7085, 7150, 7215, 7280, 7345, 7415,
         7480, 7545]
E6572 = [355, 420, 485, 550, 615, 685, 750, 815, 880, 945, 1015, 1080, 2275, 2340, 3405, 3470, 3535, 3605, 3670, 3735,
         3800, 4365, 4430, 4495, 4565, 4630, 5485, 5550, 6425, 6490, 6555, 6620, 6685, 6755, 6820, 6885, 6950, 7015,
         7085, 7150, 7215, 7280, 7345, 7415, 7480, 8805, 8875]
E6573 = [415, 480, 545, 610, 675, 740, 1900, 1965, 2030, 2095, 2160, 2225, 2295, 2360, 2425, 2490, 2555, 2625, 2690,
         5100, 5170, 5235, 5300, 5365, 5430, 5495, 5565, 5630, 5695, 5760, 6465, 6530, 6595, 6665, 6730, 6795]
E6574 = [5110, 5180, 5245, 5315, 5380, 5445, 5510, 5585, 5755, 5820, 5885, 5950, 6015, 6085, 6150, 6565, 6630, 6695,
         6765, 2105, 2170, 2235, 2300]
E6575 = [370, 435, 500, 565, 630, 690, 2195, 2265, 3855, 3920, 3985, 4055, 4120, 4185, 4250, 4315, 6785, 6850, 6915,
         6980, 7045, 7115, 7180, 7245, 7310, 7375, 7445, 7510, 7575]
E6559 = [1505, 1570, 1635, 1705, 1770, 1835, 1900, 1965, 2035, 2100, 2165, 2230, 3515, 3580, 3645, 4015, 4080, 4145,
         4215, 4280, 4355, 6465, 6535, 6600, 6665, 6735, 7085, 7155, 7220, 7285, 8035, 8095, 8165, 8785, 8850, 8915,
         8985, 9050, 9115, 9185, 9250, 9315, 9380, 9440, 9645, 9710, 9775]
E6558 = [75, 140, 205, 275, 340, 405, 475, 545, 655, 720, 785, 855, 920, 985, 1050, 1205, 1275, 1340, 1405, 1475, 1540,
         1605, 1675, 1740, 1805, 1870, 1935, 2005, 2070, 3095, 3160, 3225, 3295, 3360, 3425, 5985, 6055, 6125, 6195,
         6265, 6335, 7145, 7215, 7285, 7350, 7415, 7485, 7550, 7615, 7680, 7745, 7815, 7880, 7945, 8015, 9440, 9505,
         9570, 9635, 9705, 9770]
E6557 = [355, 420, 485, 555, 620, 685, 755, 820, 975, 1040, 1105, 1170, 1235, 1305, 3155, 3220, 3285, 3355, 3420, 3485,
         3555, 3620, 3685, 3750, 3815, 3885, 3955, 4020, 8125, 8195, 8260, 8325, 8395, 8460, 8525, 8595, 8660, 8725,
         8790, 8855, 8925, 9145, 9215, 9285, 9350, 9415, 9485, 9550, 9615, 9685, 9755]

LEVELS = {
    6543: S6543, 6544: S6544, 6545: S6545, 6546: S6546, 6547: S6547, 6548: S6548, 6549: S6549, 6550: S6550,
    6551: S6551, 6552: S6552, 6553: S6553, 6554: S6554, 6555: S6555, 6556: S6556, 6557: S6557 + E6557,
    6558: S6558 + E6558, 6559: S6559 + E6559, 6560: S6560 + E6560, 6561: S6561 + E6561, 6562: S6562 + E6562,
    6563: S6563 + E6563, 6564: S6564 + E6564, 6565: S6565 + E6565, 6566: S6566 + E6566, 6567: S6567 + E6567,
    6568: S6568 + E6568, 6569: S6569 + E6569, 6570: S6570 + E6570, 6571: S6571 + E6571, 6572: S6572 + E6572,
    6573: S6573 + E6573, 6574: S6574 + E6574, 6575: S6575 + E6575, 6576: S6576, 6577: S6577, 6578: S6578,
    6579: S6579, 6580: S6580, 6581: S6581, 6582: S6582, 6583: S6583, 6584: S6584, 6586: S6586, 6588: S6588,
}

samples = []
counts = []
for level, xs in LEVELS.items():
    samples += xs
    counts += [level] * len(xs)

fig = plt.figure(figsize=(10, 10), dpi=100)
ax = fig.add_subplot(111)

ax.scatter(samples, counts, s=10, color='black', zorder=2, label="Samples\n$\\mu$ = 6564.69, $\\sigma$ = 6.15")

ax.set_title("Run 664, channel103, Pedestal")
ax.set_xlabel("Sample #")
ax.set_ylabel("ADC Counts")
ax.ticklabel_format(useOffset=False, axis='y')
ax.grid(True)
ax.legend(loc='upper right')

fig.tight_layout()
fig.subplots_adjust(top=0.9645)
fig.savefig("out.png")
